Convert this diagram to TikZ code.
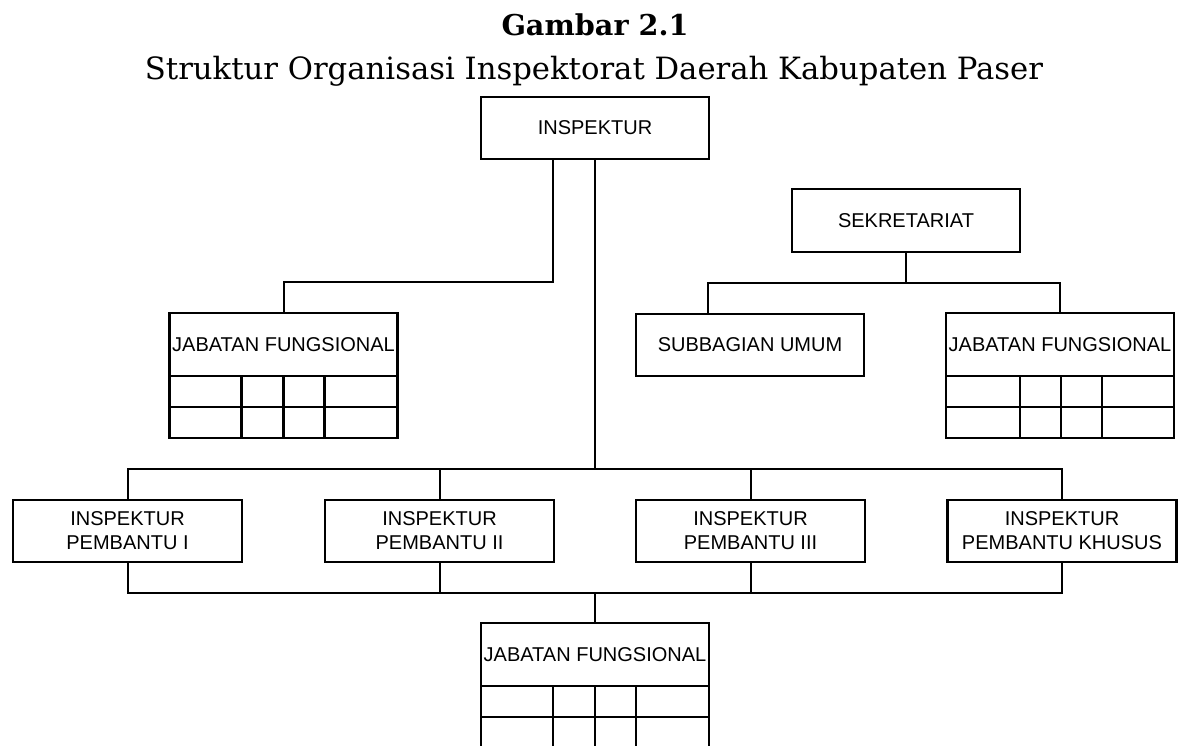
\documentclass[tikz,border=0pt]{standalone}
\usepackage{graphicx}
\usepackage{fontspec}
\setmainfont{Liberation Sans}
\newfontfamily\titlefont{DejaVu Serif}
\begin{document}
\begin{tikzpicture}[x=1pt,y=-1pt,
  box/.style={draw,line width=2.3pt,rectangle,minimum width=228pt,minimum height=62pt,
    inner sep=0pt,outer sep=0pt,align=center,font=\fontsize{20}{24}\selectfont},
  link/.style={line width=2pt},
  grid/.style={line width=2.3pt}]
\useasboundingbox (0,0) rectangle (1178,745);
\clip (0,0) rectangle (1178,745);
% titles
\node[anchor=base,inner sep=0pt] (title) at (595,35) {\resizebox{187pt}{!}{\titlefont\bfseries Gambar 2.1}};
\node[anchor=base,inner sep=0pt] (subtitle) at (594,79) {\resizebox{898pt}{!}{\titlefont Struktur Organisasi Inspektorat Daerah Kabupaten Paser}};
% boxes
\node[box] (insp) at (595,128) {INSPEKTUR};
\node[box,minimum height=63pt] (sek) at (906,220.5) {SEKRETARIAT};
\node[box] (sub) at (750,345) {SUBBAGIAN UMUM};
\node[box,minimum height=63pt] (jf1) at (283.5,344.5) {JABATAN FUNGSIONAL};
\node[box,minimum height=63pt] (jf2) at (1060,344.5) {JABATAN FUNGSIONAL};
\node[box,minimum height=63pt] (jf3) at (595,654.5) {JABATAN FUNGSIONAL};
\node[box,minimum width=229pt] (p1) at (127.5,531) {INSPEKTUR\\PEMBANTU I};
\node[box,minimum width=229pt] (p2) at (439.5,531) {INSPEKTUR\\PEMBANTU II};
\node[box,minimum width=229pt] (p3) at (750.5,531) {INSPEKTUR\\PEMBANTU III};
\node[box,minimum width=229pt] (pk) at (1062,531) {INSPEKTUR\\PEMBANTU KHUSUS};
% grids under JABATAN FUNGSIONAL
\foreach \n in {jf1,jf3} {
  \draw[grid] (\n.south west) rectangle ++(228,62);
  \draw[grid] (\n.south west) ++(0,31) -- ++(228,0);
  \draw[grid] (\n.south west) ++(72,0) -- ++(0,62);
  \draw[grid] (\n.south west) ++(114,0) -- ++(0,62);
  \draw[grid] (\n.south west) ++(155,0) -- ++(0,62);
}
\draw[grid] (jf2.south west) rectangle ++(228,62);
\draw[grid] (jf2.south west) ++(0,31) -- ++(228,0);
\draw[grid] (jf2.south west) ++(74,0) -- ++(0,62);
\draw[grid] (jf2.south west) ++(115,0) -- ++(0,62);
\draw[grid] (jf2.south west) ++(156,0) -- ++(0,62);
% connectors
\draw[link] ([xshift=-42pt]insp.south) -- ++(0,123) -| (jf1.north);
\draw[link] (sek.south) -- ++(0,31) coordinate (sb);
\draw[link] ([xshift=-42pt]sub.north) |- (sb) -| (jf2.north);
\draw[link] (insp.south) -- ++(0,310) coordinate (t1);
\draw[link] (p1.north) |- (t1) -| (pk.north);
\draw[link] (p2.north) -- (p2.north |- t1);
\draw[link] (p3.north) -- (p3.north |- t1);
\draw[link] (p1.south) -- ++(0,31) coordinate (t2) -| (pk.south);
\draw[link] (p2.south) -- (p2.south |- t2);
\draw[link] (p3.south) -- (p3.south |- t2);
\draw[link] (jf3.north) -- (jf3.north |- t2);
\end{tikzpicture}
\end{document}
